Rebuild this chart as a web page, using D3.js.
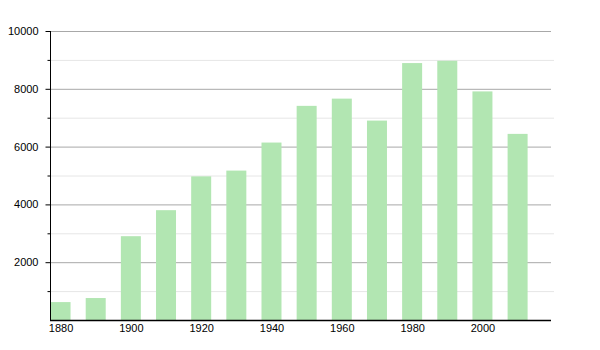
<!DOCTYPE html>
<html>
<head>
<meta charset="utf-8">
<script src="https://cdn.jsdelivr.net/npm/d3@7"></script>
<style>
  body { margin: 0; background: #fff; }
  text { font-family: "Liberation Sans", Arial, sans-serif; font-size: 11px; fill: #000; }
</style>
</head>
<body>
<svg id="chart" width="600" height="350"></svg>
<script>
// population by census year
const years = [1880, 1890, 1900, 1910, 1920, 1930, 1940, 1950, 1960, 1970, 1980, 1990, 2000, 2010];
const values = [620, 760, 2900, 3800, 4970, 5170, 6140, 7410, 7660, 6900, 8890, 8970, 7910, 6440];
const yMajorTicks = [2000, 4000, 6000, 8000, 10000];
const yMinorTicks = [1000, 3000, 5000, 7000, 9000];
const xTickYears = [1880, 1900, 1920, 1940, 1960, 1980, 2000];

const svg = d3.select("#chart");
const plotLeft = 50, plotRight = 551, plotTop = 31, plotBottom = 320;
const BAR_WIDTH = 20;

const x = d3.scaleLinear().domain([1877, 2019.5]).range([plotLeft, plotRight]);
const y = d3.scaleLinear().domain([0, 10000]).range([plotBottom, plotTop]);

// light minor grid
svg.append("g").selectAll("line")
    .data(yMinorTicks)
    .enter().append("line")
    .attr("x1", plotLeft).attr("x2", plotRight + 3)
    .attr("y1", d => y(d) + 0.5).attr("y2", d => y(d) + 0.5)
    .attr("stroke", "#e6e6e6");

// major grid
svg.append("g").selectAll("line")
    .data(yMajorTicks)
    .enter().append("line")
    .attr("x1", plotLeft).attr("x2", plotRight)
    .attr("y1", d => y(d) + 0.5).attr("y2", d => y(d) + 0.5)
    .attr("stroke", "#a8a8a8");

// bars
svg.append("g").selectAll("rect")
    .data(years)
    .enter().append("rect")
    .attr("x", d => x(d) - BAR_WIDTH / 2)
    .attr("width", BAR_WIDTH)
    .attr("y", (d, i) => y(values[i]))
    .attr("height", (d, i) => plotBottom - y(values[i]))
    .attr("fill", "#b2e6b2");

// y axis
const yAxis = d3.axisLeft(y).tickValues(yMajorTicks).tickSize(5).tickFormat(d3.format("d"));
const gy = svg.append("g").attr("transform", `translate(${plotLeft + 0.5},0)`).call(yAxis);
gy.select(".domain").attr("stroke", "#000").attr("d", `M0,${plotTop}V${plotBottom}`);
gy.selectAll(".tick line").attr("stroke", "#000");
gy.selectAll(".tick text").attr("x", -12).style("font-size", "11px");
gy.append("g").selectAll("line")
    .data(yMinorTicks)
    .enter().append("line")
    .attr("x1", -3).attr("x2", 0)
    .attr("y1", d => y(d) + 0.5).attr("y2", d => y(d) + 0.5)
    .attr("stroke", "#000");

// x axis
const xAxis = d3.axisBottom(x).tickValues(xTickYears).tickSize(0).tickFormat(d3.format("d"));
const gx = svg.append("g").attr("transform", `translate(0,${plotBottom + 0.5})`).call(xAxis);
gx.select(".domain").attr("stroke", "#000").attr("stroke-width", 1.3).attr("d", `M${plotLeft},0H${plotRight}`);
gx.selectAll(".tick text").attr("y", 4).style("font-size", "11px");
</script>
</body>
</html>
